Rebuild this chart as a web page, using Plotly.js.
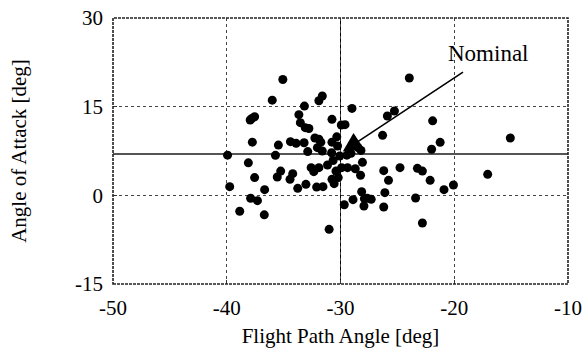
<!DOCTYPE html>
<html><head><meta charset="utf-8">
<script src="https://cdn.plot.ly/plotly-3.0.1.min.js"></script>
<style>body{margin:0;background:#fff}#c{width:584px;height:350px}</style>
</head><body><div id="c"></div>
<script>
const flightPathAngle = [-39.93,-39.74,-38.86,-38.1,-37.94,-37.8,-37.55,-37.75,-37.9,-37.55,-37.3,-36.67,-36.7,-36.0,-35.72,-35.46,-35.56,-35.26,-35.07,-34.4,-34.44,-34.2,-33.9,-33.76,-33.66,-33.53,-33.17,-33.1,-32.78,-33.2,-33.04,-32.88,-32.58,-32.35,-32.25,-32.03,-32.1,-31.9,-31.6,-31.9,-31.73,-31.6,-31.54,-31.9,-31.14,-31.0,-30.75,-30.75,-30.78,-30.65,-30.75,-30.56,-30.33,-30.26,-30.4,-30.2,-30.07,-29.9,-29.93,-29.6,-29.67,-29.44,-29.38,-29.08,-28.99,-28.9,-28.7,-28.46,-28.2,-28.24,-28.07,-28.14,-27.94,-27.9,-27.65,-27.3,-26.3,-26.2,-26.1,-26.2,-25.88,-25.78,-25.26,-24.77,-23.95,-23.4,-23.24,-22.8,-22.8,-22.12,-21.99,-21.9,-21.24,-20.9,-20.07,-17.06,-15.07];
const angleOfAttack = [6.8,1.47,-2.7,5.5,12.75,13.0,13.3,9.0,-0.5,3.0,-0.9,0.96,-3.3,16.1,6.77,8.5,3.1,4.1,19.6,9.08,2.7,3.67,8.8,1.18,13.65,12.3,15.1,11.45,11.3,8.9,1.86,7.4,4.68,4.0,9.7,8.07,1.4,16.0,16.8,9.5,9.0,7.5,1.47,4.68,5.13,-5.75,12.86,9.0,7.2,5.9,2.7,1.97,9.9,8.35,4.1,3.0,6.65,4.68,11.9,11.96,-1.6,6.8,4.68,7.1,14.7,-0.73,4.5,8.07,7.6,3.4,5.58,0.62,-1.8,-0.56,-0.5,-0.68,10.15,4.17,0.45,-1.97,13.42,2.54,14.27,4.68,19.85,-0.45,4.57,4.1,-4.68,2.54,7.8,12.6,8.97,0.96,1.75,3.55,9.7];
const xTicks = [-50,-40,-30,-20,-10];
const yTicks = [-15,0,15,30];
const nominal = {gamma:-30, alpha:7};
const labelText = "Nominal";

const serif = "'Liberation Serif', 'Times New Roman', Times, serif";
const trace = {x:flightPathAngle, y:angleOfAttack, mode:'markers', type:'scatter',
  marker:{color:'#000', size:9}, hoverinfo:'skip'};
const axisCommon = {showgrid:true, gridcolor:'#444', griddash:'dot', gridwidth:1, zeroline:false,
  showline:false, ticks:'inside', ticklen:4, tickcolor:'#333',
  tickfont:{family:serif,size:21,color:'#000'}};
const layout = {
  width:584, height:350, margin:{l:113,r:16,t:18,b:66},
  paper_bgcolor:'#fff', plot_bgcolor:'#fff', showlegend:false,
  font:{family:serif, size:21, color:'#000'},
  xaxis:Object.assign({}, axisCommon, {range:[-50,-10], tickvals:xTicks, ticktext:xTicks.map(v=>String(v)), ticklabelstandoff:9,
    title:{text:'Flight Path Angle [deg]', font:{family:serif,size:21}, standoff:9}}),
  yaxis:Object.assign({}, axisCommon, {range:[-15,30], tickvals:yTicks, ticktext:yTicks.map(v=>String(v)), ticklabelstandoff:9,
    title:{text:'Angle of Attack [deg]', font:{family:serif,size:21}, standoff:42}}),
  shapes:[
    {type:'line', xref:'x', yref:'paper', x0:nominal.gamma, x1:nominal.gamma, y0:0, y1:1, line:{color:'#000', width:1}, layer:'below'},
    {type:'line', xref:'paper', yref:'y', x0:0, x1:1, y0:nominal.alpha, y1:nominal.alpha, line:{color:'#555', width:2}, layer:'below'},
    {type:'rect', xref:'paper', yref:'paper', x0:0, x1:1, y0:0, y1:1, line:{color:'#222', width:1.6, dash:'3px,1px'}, layer:'above'}
  ],
  annotations:[
    {x:-29.8, y:7.4, xref:'x', yref:'y', ax:-19.1, ay:21, axref:'x', ayref:'y', text:'', showarrow:true,
      arrowhead:2, arrowsize:2.4, arrowwidth:1.6, arrowcolor:'#000'},
    {x:-17.0, y:24.0, xref:'x', yref:'y', text:labelText, showarrow:false, font:{family:serif,size:23,color:'#000'}}
  ]
};
Plotly.newPlot('c',[trace],layout,{staticPlot:true});
</script></body></html>
